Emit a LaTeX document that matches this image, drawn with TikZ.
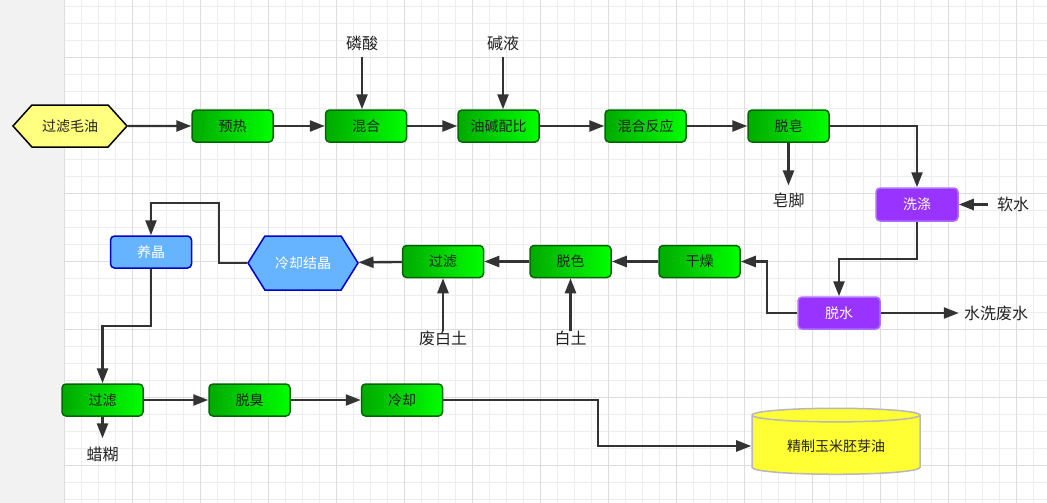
\documentclass[tikz,border=0pt]{standalone}
\usepackage{fontspec}
\newfontfamily\cjk{Noto Sans CJK SC}
\usetikzlibrary{arrows.meta,shapes.symbols,shapes.geometric}
\begin{document}
\begin{tikzpicture}[x=1pt,y=-1pt,
  flow/.style={draw=linecolor,line width=2.4pt,-{Triangle[length=15pt,width=11pt]}},
  procbox/.style={rectangle,rounded corners=4pt,draw=greenborder,line width=1.5pt,
    left color=greendark,right color=greenlight,text=textcolor,
    minimum width=81pt,minimum height=32pt,font=\cjk\fontsize{14}{16}\selectfont},
  washbox/.style={procbox,draw=purpleborder,left color=purplefill,right color=purplefill,text=white},
  growbox/.style={procbox,draw=blueborder,left color=bluefill,right color=bluefill,text=white},
  hexbox/.style={signal,signal to=east and west,line width=1.5pt,
    font=\cjk\fontsize{14}{16}\selectfont,inner sep=0pt},
  label/.style={font=\cjk\fontsize{16}{18}\selectfont,text=textcolor,inner sep=1pt}]
\definecolor{linecolor}{HTML}{333333}
\definecolor{textcolor}{HTML}{222222}
\definecolor{greendark}{HTML}{00AA00}
\definecolor{greenlight}{HTML}{00FF00}
\definecolor{greenborder}{HTML}{006600}
\definecolor{purplefill}{HTML}{9933FF}
\definecolor{purpleborder}{HTML}{B070FF}
\definecolor{bluefill}{HTML}{66B3FF}
\definecolor{blueborder}{HTML}{0000CC}
\definecolor{hexyellow}{HTML}{FFFF80}
\definecolor{oilyellow}{HTML}{FFFF33}
\definecolor{oilborder}{HTML}{B8B8B8}
\definecolor{stripcolor}{HTML}{F2F2F2}
\definecolor{minorgrid}{HTML}{EDEDED}
\definecolor{majorgrid}{HTML}{DDDDDD}
\useasboundingbox (0,0) rectangle (1047,503);
\fill[white] (0,0) rectangle (1047,503);
\fill[stripcolor] (0,0) rectangle (64,503);
\foreach \x in {64,81,...,1047} \draw[minorgrid,line width=0.8pt] (\x,0) -- (\x,503);
\foreach \y in {6,23,...,503} \draw[minorgrid,line width=0.8pt] (64,\y) -- (1047,\y);
\foreach \x in {64,132,...,1047} \draw[majorgrid,line width=0.8pt] (\x,0) -- (\x,503);
\foreach \y in {57,125,...,503} \draw[majorgrid,line width=0.8pt] (64,\y) -- (1047,\y);
\node (raw) [hexbox,draw=black,fill=hexyellow,text=textcolor,signal pointer angle=96,
  minimum width=114pt,minimum height=42pt] at (70,126) {过滤毛油};
\node (preheat) [procbox] at (232.5,126) {预热};
\node (mix) [procbox] at (366,126) {混合};
\node (ratio) [procbox] at (498.5,126) {油碱配比};
\node (react) [procbox] at (645.5,126) {混合反应};
\node (desoap) [procbox] at (788.5,126) {脱皂};
\node (acid) [label] at (362,43) {磷酸};
\node (lye) [label] at (503,43) {碱液};
\node (soapstock) [label] at (788.5,200) {皂脚};
\node (wash) [washbox,minimum width=82pt,minimum height=33pt] at (917,204.5) {洗涤};
\node (softwater) [label] at (1013,204.5) {软水};
\node (dewater) [washbox,minimum width=82pt,minimum height=32pt] at (839,313) {脱水};
\node (wastewater) [label] at (996,313) {水洗废水};
\node (dry) [procbox] at (699.5,261.5) {干燥};
\node (bleach) [procbox] at (570.5,261.5) {脱色};
\node (filter) [procbox] at (443,261.5) {过滤};
\node (clay) [label] at (570.5,338) {白土};
\node (spentclay) [label] at (443,338) {废白土};
\node (crystal) [hexbox,draw=blueborder,fill=bluefill,text=white,signal pointer angle=116,
  minimum width=110pt,minimum height=54pt] at (303,263) {冷却结晶};
\node (grow) [growbox] at (151,252) {养晶};
\node (filterb) [procbox] at (102.5,400) {过滤};
\node (wax) [label] at (102.5,455) {蜡糊};
\node (deodor) [procbox] at (249.5,400) {脱臭};
\node (cool) [procbox] at (402,400) {冷却};
\node (oil) [cylinder,shape border rotate=90,aspect=0.13,draw=oilborder,line width=1.5pt,
  cylinder uses custom fill,cylinder body fill=oilyellow,cylinder end fill=oilyellow,
  minimum width=168pt,minimum height=66pt,text=textcolor,
  font=\cjk\fontsize{14}{16}\selectfont] at (836,446) {精制玉米胚芽油};
\coordinate (bendcrystal) at (219,203);
\coordinate (bendgrow) at (127,326);
\coordinate (bendcool) at (598,420);
\draw[flow] (raw) -- (preheat);
\draw[flow] (preheat) -- (mix);
\draw[flow] (mix) -- (ratio);
\draw[flow] (ratio) -- (react);
\draw[flow] (react) -- (desoap);
\draw[flow] ([yshift=-5pt]acid.south) -- (acid |- mix.north);
\draw[flow] ([yshift=-5pt]lye.south) -- (lye |- ratio.north);
\draw[flow] (desoap.south) -- ([yshift=6pt]soapstock.north);
\draw[flow] (desoap.east) -| (wash.north);
\draw[flow] ([xshift=-8pt]softwater.west) -- (wash.east);
\draw[flow] (wash.south) -- ++(0,37) -| (dewater.north);
\draw[flow] (dewater.east) -- ([xshift=-4pt]wastewater.west);
\draw[flow] (dewater.west) -- ++(-30,0) |- (dry.east);
\draw[flow] (dry) -- (bleach);
\draw[flow] (bleach) -- (filter);
\draw[flow] (filter) -- (crystal);
\draw[flow] ([yshift=-2pt]clay.north) -- (bleach.south);
\draw[flow] ([yshift=-2pt]spentclay.north) -- (filter.south);
\draw[flow] (crystal.west) -| (bendcrystal) -| (grow.north);
\draw[flow] (grow.south) |- (bendgrow) -| (filterb.north);
\draw[flow] (filterb.south) -- ([yshift=8pt]wax.north);
\draw[flow] (filterb) -- (deodor);
\draw[flow] (deodor) -- (cool);
\draw[flow] (cool.east) -| (bendcool) |- (oil.west);
\end{tikzpicture}
\end{document}
